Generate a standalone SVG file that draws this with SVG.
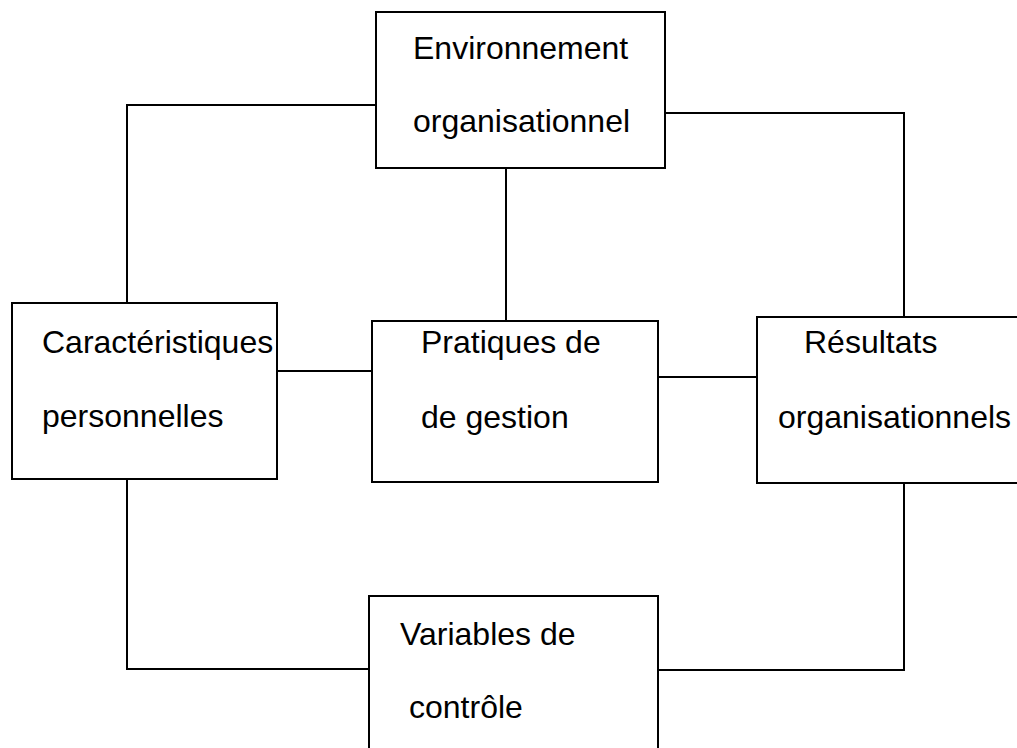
<svg xmlns="http://www.w3.org/2000/svg" width="1017" height="748" viewBox="0 0 1017 748">
<style>
.box{fill:#fff;stroke:#000;stroke-width:2}
.lbl{font-family:"Liberation Sans",Arial,sans-serif;font-size:32px;fill:#000}
.conn{fill:none;stroke:#000;stroke-width:2}
</style>
<rect width="1017" height="748" fill="#fff"/>
<g id="connectors" class="conn">
<polyline points="376,105 127,105 127,302"/>
<polyline points="665,113 904,113 904,317"/>
<line x1="506" y1="168" x2="506" y2="321"/>
<line x1="277" y1="371" x2="372" y2="371"/>
<line x1="658" y1="377" x2="757" y2="377"/>
<polyline points="127,479 127,669 369,669"/>
<polyline points="904,483 904,670 658,670"/>
</g>
<g id="env">
<rect class="box" x="376" y="12" width="289" height="156"/>
<text class="lbl" x="413" y="59">Environnement</text>
<text class="lbl" x="413" y="132">organisationnel</text>
</g>
<g id="caract">
<rect class="box" x="12" y="303" width="265" height="176"/>
<text class="lbl" x="42" y="353">Caractéristiques</text>
<text class="lbl" x="42" y="427">personnelles</text>
</g>
<g id="pratiques">
<rect class="box" x="372" y="321" width="286" height="161"/>
<text class="lbl" x="421" y="353">Pratiques de</text>
<text class="lbl" x="421" y="428">de gestion</text>
</g>
<g id="resultats">
<rect class="box" x="757" y="317" width="270" height="166"/>
<text class="lbl" x="804" y="353">Résultats</text>
<text class="lbl" x="778" y="428">organisationnels</text>
</g>
<g id="variables">
<rect class="box" x="369" y="596" width="289" height="170"/>
<text class="lbl" x="400" y="645">Variables de</text>
<text class="lbl" x="409" y="718">contrôle</text>
</g>
</svg>
